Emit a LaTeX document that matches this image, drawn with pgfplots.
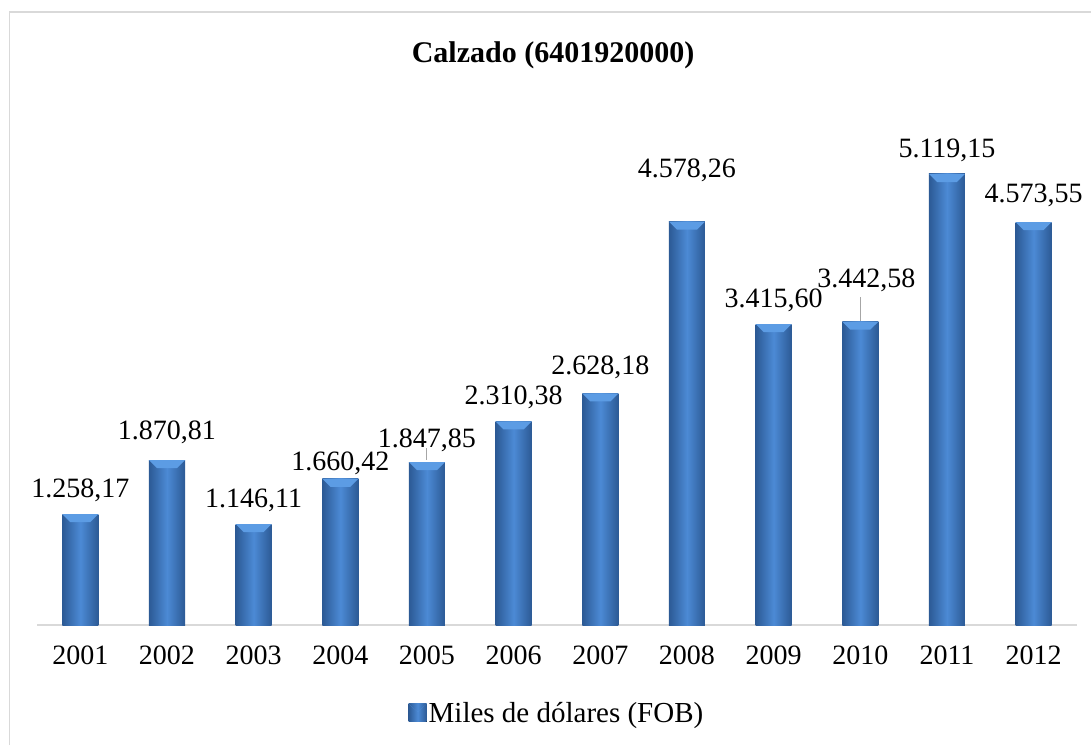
\documentclass[border=0pt]{standalone}
\usepackage{pgfplots}
\pgfplotsset{compat=1.18}
\usepackage{fontspec}
\setmainfont{LiberationSerif}[Extension=.ttf, UprightFont=*-Regular, BoldFont=*-Bold, ItalicFont=*-Italic, BoldItalicFont=*-BoldItalic]
\definecolor{barEdge}{HTML}{2C5A95}
\definecolor{barMid}{HTML}{4C8AD5}
\definecolor{barLight}{HTML}{5C9CE4}
\definecolor{axisGray}{HTML}{D9D9D9}
\definecolor{leader}{HTML}{A6A6A6}
\pgfplotsset{mybar/.style={ybar, bar width=36pt, bar shift=0pt, draw=none, left color=barEdge, right color=barEdge, middle color=barMid},
  bevel/.style={fill=barLight, draw=none, forget plot}}
\begin{document}
\begin{tikzpicture}
\useasboundingbox (0,0) rectangle (1091pt,745pt);
\draw[axisGray, line width=1.5pt] (9.5pt,0pt) -- (9.5pt,733pt) -- (1091pt,733pt);
\node[font=\fontsize{30}{36}\selectfont\bfseries] at (553pt,690pt) {Calzado (6401920000)};
\begin{axis}[
  at={(37pt,120pt)}, anchor=south west,
  scale only axis, width=1040pt, height=493.4pt,
  xmin=2000.5, xmax=2012.5, ymin=0, ymax=5600,
  clip=false,
  axis x line=bottom, axis y line=none,
  axis line style={-, draw=axisGray, line width=1.5pt},
  xtick={2001,2002,2003,2004,2005,2006,2007,2008,2009,2010,2011,2012},
  major tick length=0pt,
  xticklabel style={font=\fontsize{28}{34}\selectfont, yshift=-17pt},
  /pgf/number format/.cd, 1000 sep={}, assume math mode=true, /pgfplots/.cd,
  legend style={at={(0.5,-0.178)}, anchor=center, draw=none, fill=none,
    font=\fontsize{29}{35}\selectfont, inner sep=0pt},
  legend image code/.code={\fill[left color=barEdge, right color=barEdge, middle color=barMid] (0pt,-9pt) rectangle (18pt,9pt);
    \fill[barLight] (0pt,9pt) -- (18pt,9pt) -- (9pt,1pt) -- cycle;},
  every node near coord/.append style={anchor=center, inner sep=0pt, font=\fontsize{28}{34}\selectfont, text=black},
]
\addplot[mybar] coordinates {(2001,1258.17)};
\addlegendentry{Miles de dólares (FOB)}
\addplot[mybar, forget plot] coordinates {(2002,1870.81)};
\addplot[mybar, forget plot] coordinates {(2003,1146.11)};
\addplot[mybar, forget plot] coordinates {(2004,1660.42)};
\addplot[mybar, forget plot] coordinates {(2005,1847.85)};
\addplot[mybar, forget plot] coordinates {(2006,2310.38)};
\addplot[mybar, forget plot] coordinates {(2007,2628.18)};
\addplot[mybar, forget plot] coordinates {(2008,4578.26)};
\addplot[mybar, forget plot] coordinates {(2009,3415.60)};
\addplot[mybar, forget plot] coordinates {(2010,3442.58)};
\addplot[mybar, forget plot] coordinates {(2011,5119.15)};
\addplot[mybar, forget plot] coordinates {(2012,4573.55)};
% bevel highlights on top of each bar
\addplot[bevel] coordinates {(2000.7923,1258.17) (2001.2077,1258.17) (2001.115,1167) (2000.885,1167)};
\addplot[bevel] coordinates {(2001.7923,1870.81) (2002.2077,1870.81) (2002.115,1780) (2001.885,1780)};
\addplot[bevel] coordinates {(2002.7923,1146.11) (2003.2077,1146.11) (2003.115,1055) (2002.885,1055)};
\addplot[bevel] coordinates {(2003.7923,1660.42) (2004.2077,1660.42) (2004.115,1569) (2003.885,1569)};
\addplot[bevel] coordinates {(2004.7923,1847.85) (2005.2077,1847.85) (2005.115,1757) (2004.885,1757)};
\addplot[bevel] coordinates {(2005.7923,2310.38) (2006.2077,2310.38) (2006.115,2219) (2005.885,2219)};
\addplot[bevel] coordinates {(2006.7923,2628.18) (2007.2077,2628.18) (2007.115,2537) (2006.885,2537)};
\addplot[bevel] coordinates {(2007.7923,4578.26) (2008.2077,4578.26) (2008.115,4487) (2007.885,4487)};
\addplot[bevel] coordinates {(2008.7923,3415.60) (2009.2077,3415.60) (2009.115,3325) (2008.885,3325)};
\addplot[bevel] coordinates {(2009.7923,3442.58) (2010.2077,3442.58) (2010.115,3352) (2009.885,3352)};
\addplot[bevel] coordinates {(2010.7923,5119.15) (2011.2077,5119.15) (2011.115,5028) (2010.885,5028)};
\addplot[bevel] coordinates {(2011.7923,4573.55) (2012.2077,4573.55) (2012.115,4483) (2011.885,4483)};
\addplot[only marks, mark=none, point meta=explicit symbolic, nodes near coords, forget plot]
table[meta=label] {
x y label
2001 1532 1.258,17
2002 2191 1.870,81
2003 1419 1.146,11
2004 1839 1.660,42
2005 2100 1.847,85
2006 2588 2.310,38
2007 2928 2.628,18
2008 5165 4.578,26
2009 3689 3.415,60
2010.07 3916 3.442,58
2011 5392 5.119,15
2012 4881 4.573,55
};
\addplot[leader, line width=1pt, forget plot] coordinates {(2005,1873) (2005,2009)};
\addplot[leader, line width=1pt, forget plot] coordinates {(2010,3451) (2010,3723)};
\end{axis}
\end{tikzpicture}
\end{document}
